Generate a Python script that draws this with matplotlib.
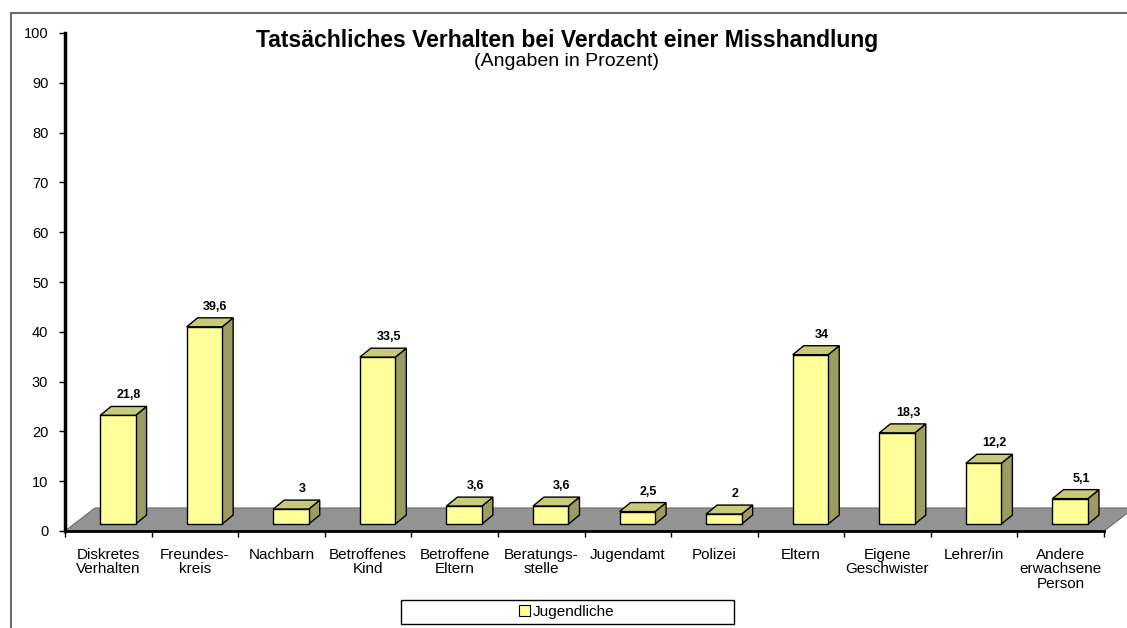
import matplotlib
matplotlib.use("Agg")
from matplotlib import pyplot as plt
from matplotlib.patches import Polygon, Rectangle, Patch

plt.rcParams['font.family'] = ['Liberation Sans', 'DejaVu Sans']

# Survey data
categories = [
    "Diskretes\nVerhalten", "Freundes-\nkreis", "Nachbarn", "Betroffenes\nKind",
    "Betroffene\nEltern", "Beratungs-\nstelle", "Jugendamt", "Polizei", "Eltern",
    "Eigene\nGeschwister", "Lehrer/in", "Andere\nerwachsene\nPerson",
]
jugendliche = [21.8, 39.6, 3, 33.5, 3.6, 3.6, 2.5, 2, 34, 18.3, 12.2, 5.1]

FRONT = "#FFFF99"
SIDE = "#9C9C62"
TOP = "#C9C97A"
FLOOR = "#939393"

W, H = 1127, 628
fig = plt.figure(figsize=(W / 100, H / 100), dpi=100)

# axes box in pixels: x 65..1104, y 33..531
ax = fig.add_axes([65 / W, (H - 531) / H, (1104 - 65) / W, (531 - 33) / H])
n = len(categories)
ax.set_xlim(0, n)
ax.set_ylim(0, 100)

px_x = (1104 - 65) / n      # pixels per category
px_y = (531 - 33) / 100.0   # pixels per percent

# 3d offsets (depth) converted to data units
bdx, bdy = 11 / px_x, 9 / px_y
fdx, fdy = 30 / px_x, 23 / px_y
base = 1.4
x0, bw = 0.405, 0.41

# gray floor
ax.add_patch(Polygon([(0, 0), (n, 0), (n + fdx, fdy), (fdx, fdy)], closed=True,
                     facecolor=FLOOR, edgecolor="#6a6a6a", lw=0.8,
                     clip_on=False, zorder=1))

for i, v in enumerate(jugendliche):
    left = i + x0
    right = left + bw
    top = base + v
    ax.add_patch(Polygon([(right, base), (right + bdx, base + bdy),
                          (right + bdx, top + bdy), (right, top)],
                         facecolor=SIDE, edgecolor="black", lw=1.0, zorder=3))
    ax.add_patch(Polygon([(left, top), (right, top), (right + bdx, top + bdy),
                          (left + bdx, top + bdy)],
                         facecolor=TOP, edgecolor="black", lw=1.0, zorder=3))
    ax.add_patch(Rectangle((left, base), bw, v, facecolor=FRONT,
                           edgecolor="black", lw=1.0, zorder=4))
    label = f"{v:g}".replace(".", ",")
    ax.text(left + bw / 2 + bdx, top + bdy + 1.0, label, ha="center",
            va="bottom", fontsize=9, fontweight="bold", zorder=5)

# axes styling
for s in ("top", "right"):
    ax.spines[s].set_visible(False)
ax.spines["left"].set_linewidth(2.5)
ax.spines["bottom"].set_linewidth(2)
ax.spines["left"].set_zorder(6)
ax.spines["bottom"].set_zorder(6)
ax.patch.set_visible(False)

ax.set_yticks(range(0, 101, 10))
ax.tick_params(axis="y", direction="out", length=4, width=1, labelsize=10.5, pad=8)
ax.set_xticks(range(0, n + 1))
ax.set_xticklabels([])
ax.set_xticks([i + 0.5 for i in range(n)], minor=True)
ax.set_xticklabels(categories, minor=True, fontsize=11, linespacing=1.05)
ax.tick_params(axis="x", which="major", direction="out", length=4, width=1)
ax.tick_params(axis="x", which="minor", length=0, pad=12)

fig.text(567 / W, 1 - 40 / H, "Tatsächliches Verhalten bei Verdacht einer Misshandlung",
         ha="center", va="center", fontsize=16.5, fontweight="bold")
fig.text(567 / W, 1 - 61 / H, "(Angaben in Prozent)", ha="center", va="center",
         fontsize=14)

# legend box with centred entry
fig.patches.append(Rectangle((401 / W, (H - 624) / H), 333 / W, 24 / H,
                             transform=fig.transFigure, facecolor="white",
                             edgecolor="black", lw=1))
fig.legend(handles=[Patch(facecolor=FRONT, edgecolor="black", lw=0.8)],
           labels=["Jugendliche"], loc="center",
           bbox_to_anchor=(567 / W, (H - 612) / H),
           fontsize=11, frameon=False, handlelength=0.7, handleheight=0.7,
           handletextpad=0.2, borderpad=0.1)

# outer chart frame
fig.patches.append(Rectangle((11 / W, -0.1), 1.2, 1 - 13 / H + 0.1,
                             transform=fig.transFigure, fill=False,
                             edgecolor="#6b6b6b", lw=1.5))

fig.savefig("out.png", dpi=100)
